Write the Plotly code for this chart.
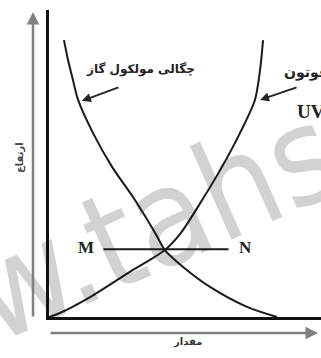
import plotly.graph_objects as go

# curve points (amount 0-100, height 0-100)
density_amount = [5.5, 7.0, 8.8, 10.7, 16.2, 23.2, 31.6, 39.0, 42.6, 49.3, 59.2, 72.8, 83.8]
density_height = [90.2, 83.7, 77.2, 70.7, 59.9, 48.9, 38.1, 27.4, 21.8, 16.3, 9.8, 3.3, 0.0]

uv_amount = [78.7, 77.6, 75.7, 70.2, 63.6, 56.3, 48.5, 42.6, 29.0, 15.1, 4.0, 0.0]
uv_height = [90.2, 80.5, 70.7, 59.9, 48.9, 38.1, 27.4, 21.8, 14.3, 6.5, 1.3, 0.0]

mn_amount = [20.0, 66.0]
mn_height = [22.1, 22.1]

density_label = 'چگالی مولکول گاز'
uv_label = 'فوتون'
x_title = 'مقدار'
y_title = 'ارتفاع'

fa_font = 'DejaVu Sans, Noto Sans, sans-serif'
serif = 'Liberation Serif, DejaVu Serif, serif'

fig = go.Figure()

fig.add_trace(go.Scatter(x=density_amount, y=density_height, mode='lines',
                         line=dict(color='#1a1a1a', width=2, shape='spline', smoothing=0.8),
                         hoverinfo='skip'))
fig.add_trace(go.Scatter(x=uv_amount, y=uv_height, mode='lines',
                         line=dict(color='#1a1a1a', width=2, shape='spline', smoothing=0.8),
                         hoverinfo='skip'))
fig.add_trace(go.Scatter(x=mn_amount, y=mn_height, mode='lines',
                         line=dict(color='#1a1a1a', width=2), hoverinfo='skip'))

# watermark, kept under the curves
fig.add_shape(type='rect', xref='paper', yref='paper', x0=-0.33, x1=1.07, y0=0.135, y1=0.535,
              layer='below', line=dict(width=0), fillcolor='rgba(0,0,0,0)',
              label=dict(text='w.tahs', textangle=-24, textposition='middle center',
                         font=dict(family='Liberation Sans Narrow, DejaVu Sans Condensed, Arial',
                                   size=135, color='#d2d2d2')))

ann = []
# text labels
ann.append(dict(x=33.8, y=80.5, text='<b>' + density_label + '</b>', showarrow=False,
                font=dict(family=fa_font, size=12, color='#222')))
# the right-hand label runs off the edge, as in the source picture
ann.append(dict(x=85.5, y=79.8, text='<b>' + uv_label + '</b>', showarrow=False, xanchor='left',
                font=dict(family=fa_font, size=14, color='#222')))
ann.append(dict(x=90.3, y=66.8, text='<b>UV</b>', showarrow=False, xanchor='left',
                font=dict(family=serif, size=19, color='#222')))
ann.append(dict(x=13.6, y=22.8, text='<b>M</b>', showarrow=False,
                font=dict(family=serif, size=17, color='#222')))
ann.append(dict(x=72.1, y=22.8, text='<b>N</b>', showarrow=False,
                font=dict(family=serif, size=17, color='#222')))

# pointer arrows to the curves
ann.append(dict(x=12.1, y=70.4, ax=38, ay=-14, text='', showarrow=True,
                arrowhead=2, arrowsize=1, arrowwidth=1.8, arrowcolor='#222'))
ann.append(dict(x=77.6, y=70.7, ax=38, ay=-13, text='', showarrow=True,
                arrowhead=2, arrowsize=1, arrowwidth=1.8, arrowcolor='#222'))

# things outside the axes go in paper units (plot is 272 x 307 px)
ann.append(dict(xref='paper', yref='paper', x=-37 / 272, y=159 / 307, text='<b>' + y_title + '</b>',
                showarrow=False, textangle=-90,
                font=dict(family=fa_font, size=10, color='#444')))
ann.append(dict(xref='paper', yref='paper', x=138 / 272, y=-33 / 307, text='<b>' + x_title + '</b>',
                showarrow=False, font=dict(family=fa_font, size=10, color='#333')))
ann.append(dict(xref='paper', yref='paper', x=-16 / 272, y=305 / 307, ax=0, ay=306, text='',
                showarrow=True, arrowhead=2, arrowsize=1, arrowwidth=2.5, arrowcolor='#808080'))
ann.append(dict(xref='paper', yref='paper', x=269 / 272, y=-16 / 307, ax=-269, ay=0, text='',
                showarrow=True, arrowhead=2, arrowsize=1, arrowwidth=2.5, arrowcolor='#808080'))

fig.update_layout(
    width=321, height=358,
    margin=dict(l=49, r=0, t=10, b=41),
    paper_bgcolor='white', plot_bgcolor='rgba(0,0,0,0)',
    showlegend=False,
    annotations=ann,
    xaxis=dict(range=[0, 100], showgrid=False, zeroline=False, showticklabels=False,
               ticks='', showline=True, linecolor='#111', linewidth=2.5, fixedrange=True),
    yaxis=dict(range=[0, 100], showgrid=False, zeroline=False, showticklabels=False,
               ticks='', showline=True, linecolor='#111', linewidth=2.5, fixedrange=True),
)

fig.write_html('out.html', config={'displayModeBar': False},
               post_script="document.body.style.margin='0';")
